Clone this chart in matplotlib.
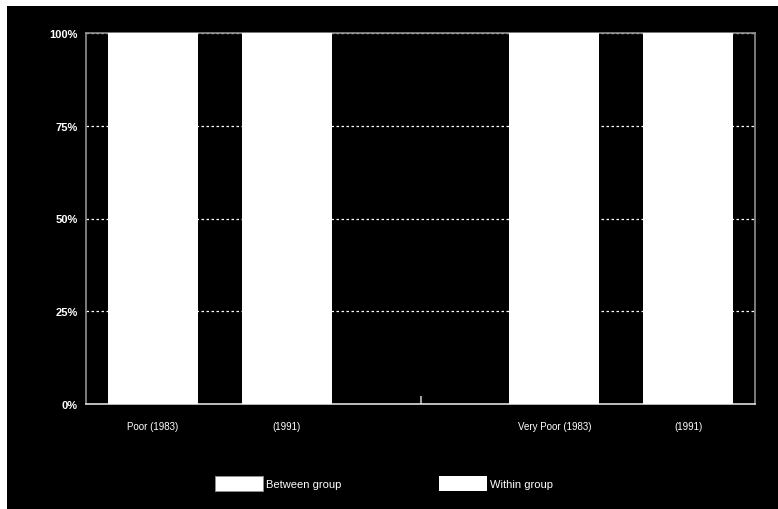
import numpy as np
import matplotlib
matplotlib.use('Agg')
import matplotlib.pyplot as plt
from matplotlib.patches import Patch, Rectangle

plt.rcParams['font.family'] = ['Liberation Sans', 'DejaVu Sans']

# data (shares in %)
categories = ['Poor (1983)', '(1991)', '', 'Very Poor (1983)', '(1991)']
between_group = [35.0, 3.0, 0.0, 34.0, 17.5]
within_group = [65.0, 97.0, 0.0, 66.0, 82.5]
y_ticks = [0, 25, 50, 75, 100]
y_labels = ['0%', '25%', '50%', '75%', '100%']

fig = plt.figure(figsize=(7.78, 5.10), dpi=100, facecolor='black')
# thin white margin at top and left
fig.patches.append(Rectangle((0, 1 - 7/510), 1, 7/510, transform=fig.transFigure,
                             facecolor='white', edgecolor='none', zorder=-10))
fig.patches.append(Rectangle((0, 0), 7/778, 1, transform=fig.transFigure,
                             facecolor='white', edgecolor='none', zorder=-10))

ax = fig.add_axes([86/778, 1 - 405/510, (755-86)/778, (405-34)/510])
ax.set_zorder(1)
ax.set_facecolor('black')

x = np.arange(len(categories))
bw = 0.67
ax.bar(x, between_group, bw, color='white', edgecolor='none', zorder=3)
ax.bar(x, within_group, bw, bottom=between_group, color='white', edgecolor='none', zorder=3)

ax.set_xlim(-0.5, len(categories) - 0.5)
ax.set_ylim(0, 100)
ax.set_yticks(y_ticks)
ax.set_yticklabels(y_labels, fontsize=8, color='white', fontweight='bold')
ax.set_xticks(x)
ax.set_xticklabels(categories, fontsize=7, color='white')
ax.tick_params(axis='x', which='major', length=0, pad=12)
ax.tick_params(axis='y', length=0, pad=6)
# small tick on the empty middle slot
ax.xaxis.remove_overlapping_locs = False
ax.set_xticks([2], minor=True)
ax.tick_params(axis='x', which='minor', direction='in', length=6, width=1.5,
               color='#a0a0a0')

ax.yaxis.grid(True, color='white', linestyle=(0, (2, 2)), linewidth=0.9, zorder=1)
ax.set_axisbelow(True)
for s in ['top', 'left', 'right']:
    ax.spines[s].set_color('#909090')
    ax.spines[s].set_linewidth(1.2)
ax.spines['bottom'].set_color('#dddddd')
ax.spines['bottom'].set_linewidth(1.2)

handles = [Patch(facecolor='white', edgecolor='#909090', linewidth=0.6, label='Between group'),
           Patch(facecolor='white', edgecolor='none', label='Within group')]
leg = fig.legend(handles=handles, loc='center', bbox_to_anchor=(0.5 - 5/778, 1 - 484/510), ncol=2,
                 frameon=False, fontsize=8, handlelength=4.3, handleheight=1.7,
                 columnspacing=8.8, handletextpad=0.3)
for t in leg.get_texts():
    t.set_color('white')

plt.savefig('out.png', dpi=100, facecolor=fig.get_facecolor())
